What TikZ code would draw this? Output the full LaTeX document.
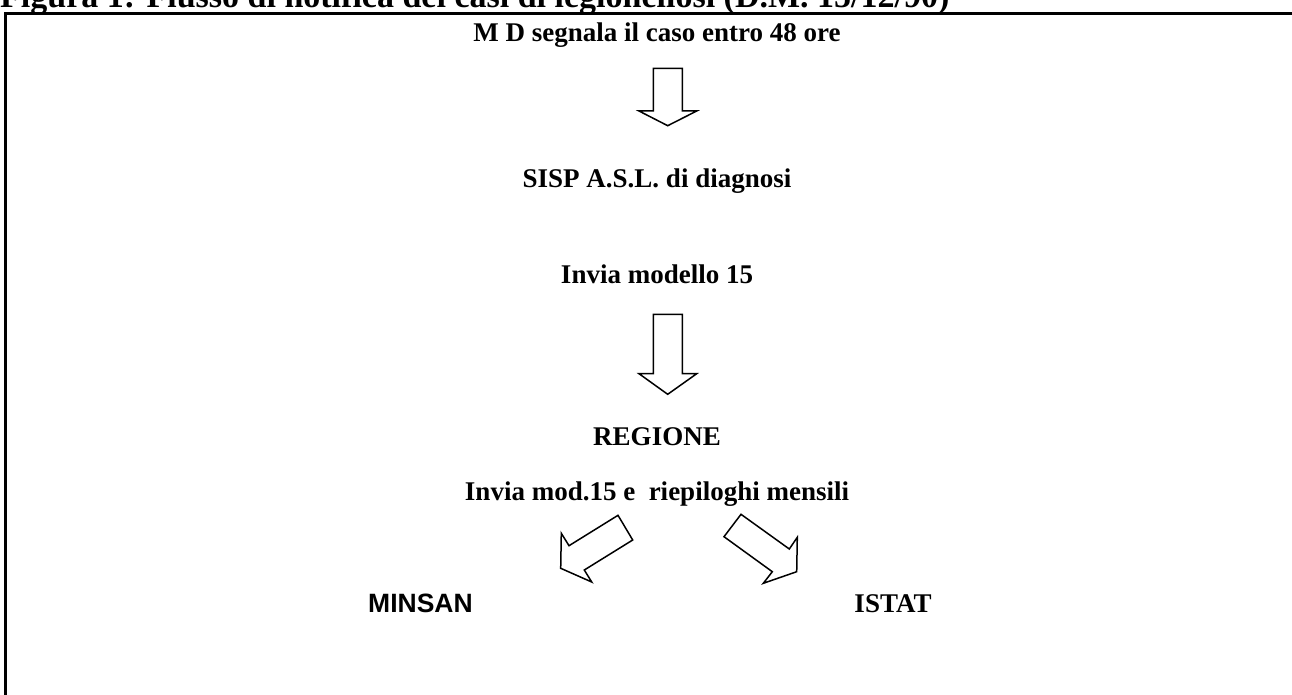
\documentclass[tikz,border=0pt]{standalone}
\usepackage{fontspec}
\setmainfont{Liberation Serif}
\newfontfamily\arialfont{Liberation Sans}
\begin{document}
\begin{tikzpicture}[x=1pt,y=-1pt,
  txt/.style={font=\fontsize{27}{32}\selectfont\bfseries, inner sep=0pt, anchor=base},
  sanstxt/.style={font=\arialfont\fontsize{26.5}{32}\selectfont\bfseries, inner sep=0pt, anchor=base},
  blockarrow/.style={draw=black, line width=1.5pt, fill=white, line join=miter},
  frameline/.style={line width=3pt, line join=miter}]
\useasboundingbox (0,0) rectangle (1292,695);
% frame
\draw[frameline] (5,705) -- (5,13.5) -- (1300,13.5);
% title (partly cut at top, as in the reference)
\node[font=\fontsize{34}{40}\selectfont\bfseries, inner sep=0pt, anchor=base west] (title) at (0,8)
  {Figura 1: Flusso di notifica dei casi di legionellosi (D.M. 15/12/90)};
% texts
\node[txt] (md) at (657,42) {M D segnala il caso entro 48 ore};
\node[txt] (sisp) at (657,188) {SISP A.S.L. di diagnosi};
\node[txt] (invia) at (657,283) {Invia modello 15};
\node[txt] (regione) at (657,445) {REGIONE};
\node[txt] (inviamod) at (657,500) {Invia mod.15 e\ \ riepiloghi mensili};
\node[sanstxt] (minsan) at (420.5,612) {MINSAN};
\node[txt] (istat) at (893,612) {ISTAT};
% vertical block arrows
\draw[blockarrow] (653.3,68.3) -- (682.3,68.3) -- (682.3,111) -- (696.7,111)
  -- (667.7,125.7) -- (639,111) -- (653.3,111) -- cycle;
\draw[blockarrow] (653.3,314.3) -- (682.3,314.3) -- (682.3,373.7) -- (696.7,373.7)
  -- (667.7,394.3) -- (639,373.7) -- (653.3,373.7) -- cycle;
% diagonal block arrows
\draw[blockarrow] (618,515.3) -- (632.7,540) -- (584.3,570) -- (591.7,582)
  -- (560.7,568.3) -- (561.3,533.3) -- (569,545.7) -- cycle;
\draw[blockarrow] (741,514.3) -- (724,536.7) -- (772.3,571.7) -- (763.3,583.3)
  -- (796.7,571.7) -- (797.3,537.3) -- (789.3,549) -- cycle;
\end{tikzpicture}
\end{document}
